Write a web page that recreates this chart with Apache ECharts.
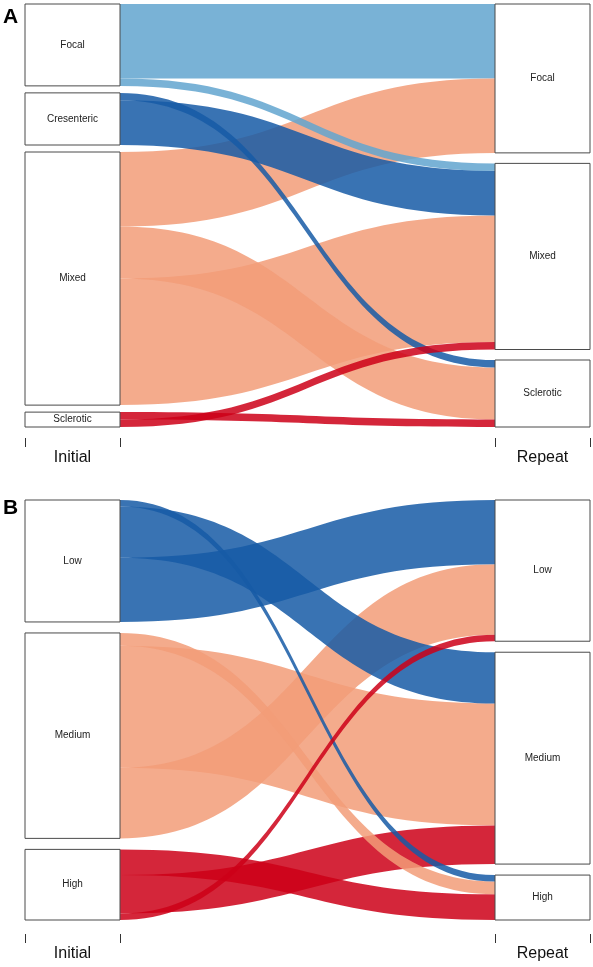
<!DOCTYPE html>
<html><head><meta charset="utf-8">
<script src="https://cdn.jsdelivr.net/npm/echarts@6/dist/echarts.min.js"></script>
<style>html,body{margin:0;padding:0;background:#fff}#chart{width:593px;height:967px}</style>
</head><body><div id="chart"></div>
<script>
// ---------- Panel A data ----------
const stageLabels = ['Initial', 'Repeat'];
const initialCatsA = ['Focal', 'Cresenteric', 'Mixed', 'Sclerotic'];
const repeatCatsA = ['Focal', 'Mixed', 'Sclerotic'];
const flowFromA = ['Focal', 'Focal', 'Cresenteric', 'Cresenteric', 'Mixed', 'Mixed', 'Mixed', 'Sclerotic', 'Sclerotic'];
const flowToA   = ['Focal', 'Mixed', 'Mixed', 'Sclerotic', 'Focal', 'Mixed', 'Sclerotic', 'Mixed', 'Sclerotic'];
const flowCountA = [10, 1, 6, 1, 10, 17, 7, 1, 1];

// ---------- Panel B data ----------
const initialCatsB = ['Low', 'Medium', 'High'];
const repeatCatsB = ['Low', 'Medium', 'High'];
const flowFromB = ['Low', 'Low', 'Low', 'Medium', 'Medium', 'Medium', 'High', 'High', 'High'];
const flowToB   = ['Low', 'Medium', 'High', 'Low', 'Medium', 'High', 'Low', 'Medium', 'High'];
const flowCountB = [10, 8, 1, 11, 19, 2, 1, 6, 4];

// ---------- styles ----------
const colorsA = {Focal: '#62a5cf', Cresenteric: '#165aa6', Mixed: '#f29c78', Sclerotic: '#cc0018'};
const colorsB = {Low: '#165aa6', Medium: '#f29c78', High: '#cc0018'};
// order used by the layout to stack flows leaving each box
const flowStackOrderA = ['Focal', 'Sclerotic', 'Mixed'];
const flowStackOrderB = ['High', 'Medium', 'Low'];

const FONT = '"Liberation Sans", Arial, Helvetica, sans-serif';
const LEFT = 25, RIGHT = 3, NODE_W = 95, CHART_W = 593;

function buildSeries(cfg) {
  const sumBy = (arr, key) => cfg.count.reduce((s, v, i) => s + (arr[i] === key ? v : 0), 0);
  const initVals = cfg.initial.map(c => sumBy(cfg.from, c));
  const repVals = cfg.repeat.map(c => sumBy(cfg.to, c));
  const total = initVals.reduce((a, b) => a + b, 0);
  const ky = Math.min(
    (cfg.height - (initVals.length - 1) * cfg.gap) / total,
    (cfg.height - (repVals.length - 1) * cfg.gap) / total);
  const localYs = vals => {
    const g = (cfg.height - total * ky) / (vals.length - 1);
    let y = 0;
    return vals.map(v => { const r = y / cfg.height; y += v * ky + g; return r; });
  };
  const initY = localYs(initVals), repY = localYs(repVals);
  const nodes = cfg.initial.map((c, i) => ({name: 'Initial|' + c, localY: initY[i]}))
    .concat(cfg.stackOrder.map(c => ({name: 'Repeat|' + c, localY: repY[cfg.repeat.indexOf(c)]})));
  const links = cfg.from.map((s, i) => ({
    source: 'Initial|' + s, target: 'Repeat|' + cfg.to[i], value: cfg.count[i],
    lineStyle: {color: cfg.colors[s], opacity: 0.85}
  }));
  // draw wide flows first so thin flows stay visible on top
  links.sort((a, b) => b.value - a.value);
  return {
    type: 'sankey', left: LEFT, right: RIGHT, top: cfg.top, height: cfg.height,
    nodeWidth: NODE_W, nodeGap: cfg.gap, layoutIterations: 0, draggable: false,
    animation: false, silent: true,
    data: nodes, links: links,
    itemStyle: {color: '#ffffff', borderColor: '#4a4a4a', borderWidth: 1},
    lineStyle: {curveness: 0.5},
    label: {show: true, position: 'inside', color: '#222', fontSize: 10, fontFamily: FONT,
            formatter: p => p.name.split('|')[1]},
    emphasis: {disabled: true}
  };
}

const seriesA = buildSeries({initial: initialCatsA, repeat: repeatCatsA, from: flowFromA, to: flowToA,
  count: flowCountA, colors: colorsA, stackOrder: flowStackOrderA, top: 4, height: 423, gap: 7});
const seriesB = buildSeries({initial: initialCatsB, repeat: repeatCatsB, from: flowFromB, to: flowToB,
  count: flowCountB, colors: colorsB, stackOrder: flowStackOrderB, top: 500, height: 420, gap: 11});

function axisGraphics(tickTop, labelY) {
  const xs = [LEFT, LEFT + NODE_W, CHART_W - RIGHT - NODE_W, CHART_W - RIGHT];
  const g = xs.map(x => ({type: 'line', shape: {x1: x + 0.5, y1: tickTop, x2: x + 0.5, y2: tickTop + 9},
    style: {stroke: '#333', lineWidth: 1}}));
  g.push({type: 'text', x: LEFT + NODE_W / 2, y: labelY,
    style: {text: stageLabels[0], font: '16px ' + FONT, fill: '#111', align: 'center', verticalAlign: 'middle'}});
  g.push({type: 'text', x: CHART_W - RIGHT - NODE_W / 2, y: labelY,
    style: {text: stageLabels[1], font: '16px ' + FONT, fill: '#111', align: 'center', verticalAlign: 'middle'}});
  return g;
}

const chart = echarts.init(document.getElementById('chart'), null, {renderer: 'canvas'});
chart.setOption({
  animation: false,
  backgroundColor: '#ffffff',
  series: [seriesA, seriesB],
  graphic: [
    {type: 'text', x: 3, y: 17, style: {text: 'A', font: 'bold 21px ' + FONT, fill: '#000', verticalAlign: 'middle'}},
    {type: 'text', x: 3, y: 508, style: {text: 'B', font: 'bold 21px ' + FONT, fill: '#000', verticalAlign: 'middle'}}
  ].concat(axisGraphics(438, 458), axisGraphics(934, 954))
});
</script></body></html>
